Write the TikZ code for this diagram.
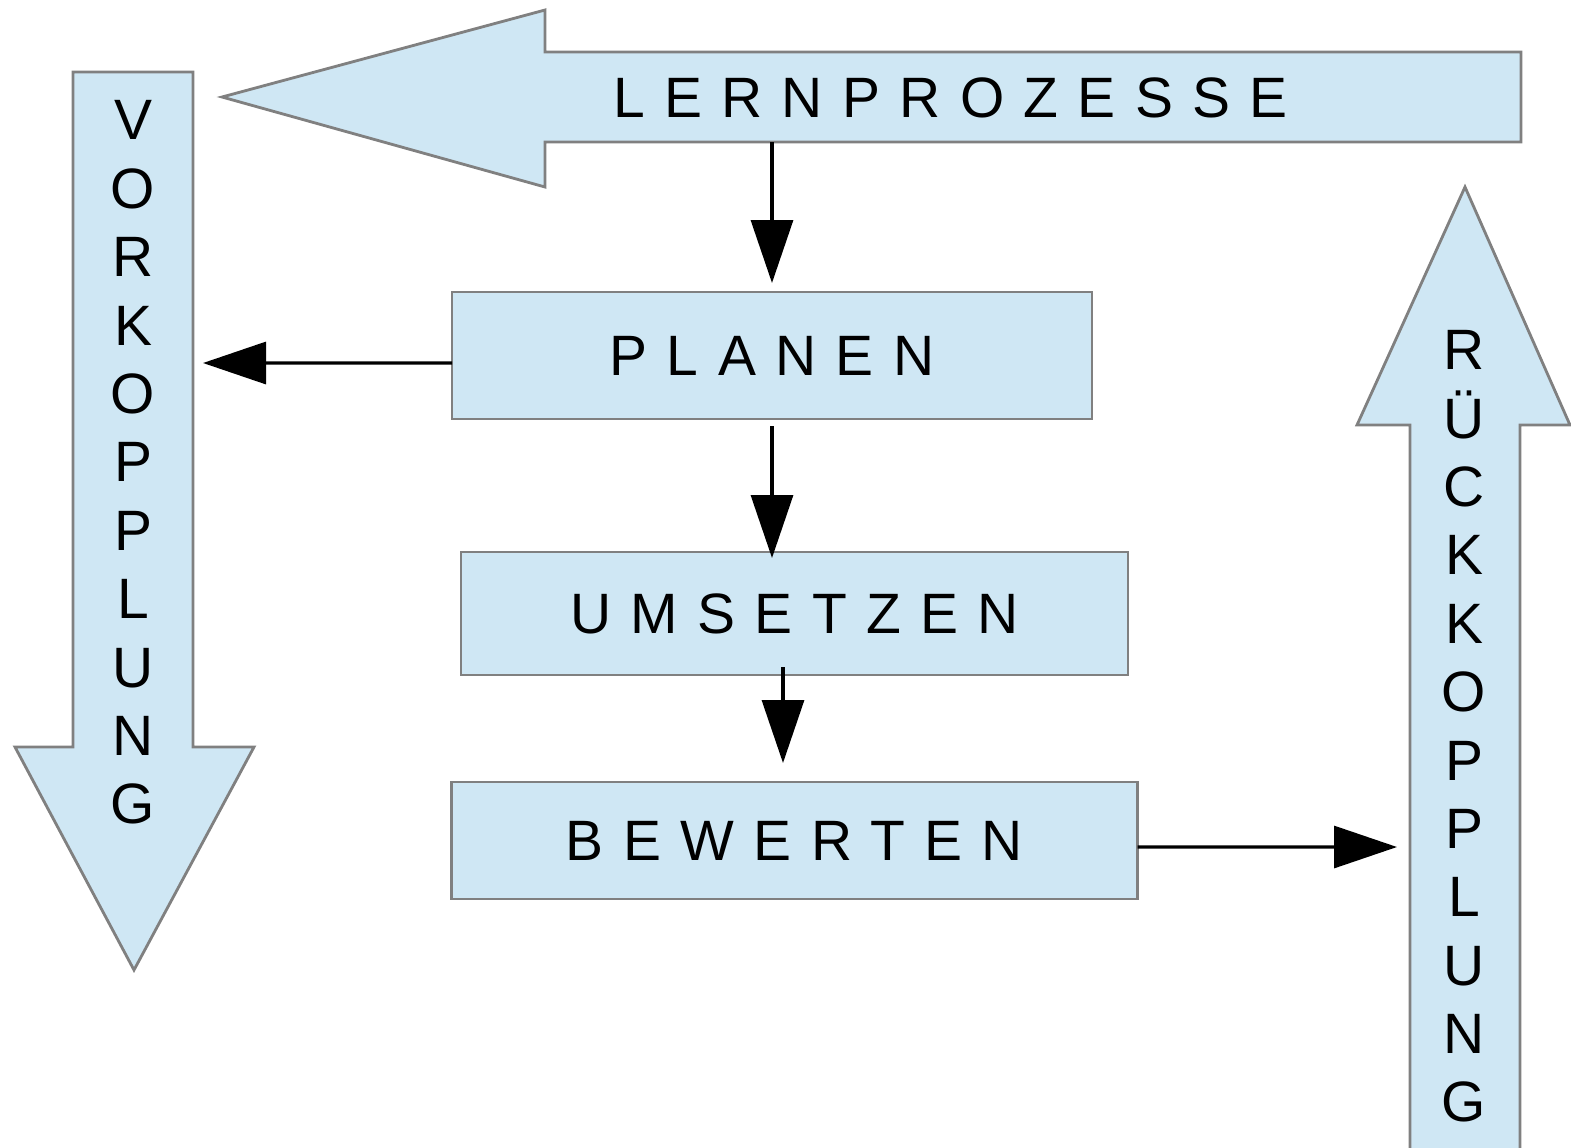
\documentclass[tikz,border=0pt]{standalone}
\usepackage{fontspec}
\setmainfont{Liberation Sans}
\usetikzlibrary{positioning,arrows.meta}
\definecolor{hellblau}{RGB}{207,231,244}
\definecolor{rahmengrau}{RGB}{128,128,128}
\newcommand{\sperr}[1]{{\addfontfeature{LetterSpace=34}#1}}

\begin{document}
\begin{tikzpicture}[x=0.1mm,y=-0.1mm]
	\tikzstyle{every node}=[font=\fontsize{16.2pt}{19.46pt}\selectfont,inner sep=0pt,outer sep=0pt]
	\tikzstyle{block}=[draw=rahmengrau,fill=hellblau,line width=0.8pt]
	\tikzstyle{kasten}=[block,rectangle]
	\tikzstyle{senkrecht}=[align=center]
	\tikzstyle{pfeil}=[draw,-{Triangle[length=6.3mm,width=4.2mm]},line width=0.9pt]

	\useasboundingbox (0,0) rectangle (1571,1147);
	\clip (0,0) rectangle (1571,1147);

	% Blockpfeile
	\draw[block] (222,97) -- (545,10) -- (545,52) -- (1521,52) -- (1521,142) -- (545,142) -- (545,187) -- cycle;
	\draw[block] (73,72) -- (193,72) -- (193,747) -- (254,747) -- (134,970) -- (15,747) -- (73,747) -- cycle;
	\draw[block] (1465,187) -- (1570,425) -- (1520,425) -- (1520,1170) -- (1410,1170) -- (1410,425) -- (1357,425) -- cycle;

	\node (lern) at (950.5,98) {\sperr{LERNPROZESSE}};
	\node[senkrecht] (vork) at (133,462.5) {V\\O\\R\\K\\O\\P\\P\\L\\U\\N\\G};
	\node[senkrecht] (rueck) at (1464,726.5) {R\\Ü\\C\\K\\K\\O\\P\\P\\L\\U\\N\\G};

	\node[kasten,minimum width=6.4cm,minimum height=1.27cm] (planen) at (772,355.5) {\sperr{PLANEN}};
	\node[kasten,minimum width=6.67cm,minimum height=1.23cm,below=1.33cm of planen,xshift=0.225cm] (umsetzen) {\sperr{UMSETZEN}};
	\node[kasten,minimum width=6.86cm,minimum height=1.17cm,below=1.07cm of umsetzen] (bewerten) {\sperr{BEWERTEN}};

	\coordinate (lernfuss) at (772,142);
	\coordinate (vorkrand) at (193,363);
	\coordinate (rueckrand) at (1410,847);

	\draw[pfeil,shorten >=0.09cm] (lernfuss) -- (planen);
	\draw[pfeil,shorten <=0.07cm,shorten >=-0.06cm] (planen.south) -- (planen.south |- umsetzen.north);
	\draw[pfeil,shorten >=0.19cm] ([xshift=-0.115cm,yshift=0.08cm]umsetzen.south) -- ([xshift=-0.115cm]umsetzen.south |- bewerten.north);
	\draw[pfeil,shorten >=0.1cm] ([yshift=-0.075cm]planen.west) -- (vorkrand);
	\draw[pfeil,shorten >=0.13cm] ([yshift=-0.065cm]bewerten.east) -- (rueckrand);
\end{tikzpicture}
\end{document}
